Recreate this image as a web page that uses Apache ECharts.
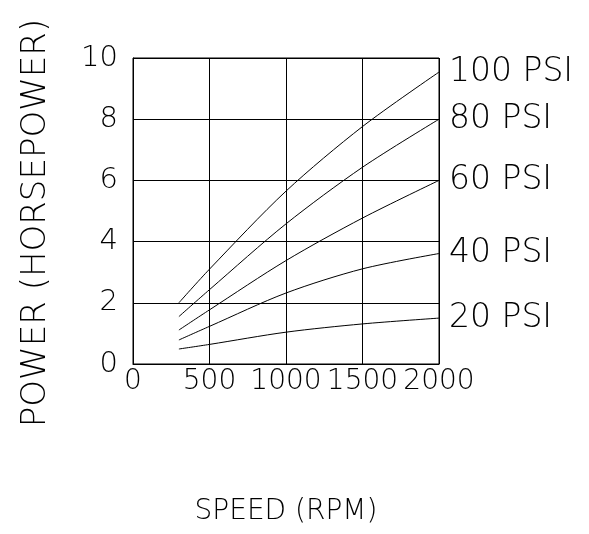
<!DOCTYPE html>
<html>
<head>
<meta charset="utf-8">
<script src="https://cdn.jsdelivr.net/npm/echarts@6/dist/echarts.min.js"></script>
<style>
  html, body { margin: 0; padding: 0; background: #fff; }
  #chart { width: 589px; height: 534px; }
</style>
</head>
<body>
<div id="chart"></div>
<script>
// speed points (rpm)
var speeds = [300, 500, 1000, 1500, 2000];
// horsepower per pressure curve
var psi100 = [2.0, 3.1, 5.65, 7.76, 9.54];
var psi80 = [1.55, 2.43, 4.58, 6.43, 8.0];
var psi60 = [1.11, 1.77, 3.38, 4.77, 6.0];
var psi40 = [0.785, 1.23, 2.32, 3.11, 3.61];
var psi20 = [0.49, 0.64, 1.04, 1.31, 1.5];
var seriesNames = ['100 PSI', '80 PSI', '60 PSI', '40 PSI', '20 PSI'];
var seriesValues = [psi100, psi80, psi60, psi40, psi20];
var xTicks = [0, 500, 1000, 1500, 2000];
var yTicks = [0, 2, 4, 6, 8, 10];

var font = 'DejaVu Sans';

var chart = echarts.init(document.getElementById('chart'));

var series = seriesNames.map(function (name, i) {
  return {
    name: name,
    type: 'line',
    smooth: 0.3,
    showSymbol: false,
    silent: true,
    animation: false,
    lineStyle: { color: '#000', width: 1 },
    data: speeds.map(function (s, j) { return [s, seriesValues[i][j]]; }),
    endLabel: {
      show: true,
      formatter: '{a}',
      distance: 10,
      color: '#000',
      fontFamily: font,
      fontWeight: 200,
      fontSize: 33
    }
  };
});

var option = {
  animation: false,
  grid: {
    left: 133, top: 58, width: 306, height: 306,
    outerBoundsMode: 'none',
    containLabel: false,
    show: true, borderColor: '#000', borderWidth: 1
  },
  xAxis: {
    type: 'value',
    min: xTicks[0], max: xTicks[xTicks.length - 1], interval: xTicks[1] - xTicks[0],
    name: 'SPEED (RPM)',
    nameLocation: 'middle',
    nameGap: 134,
    nameTextStyle: { color: '#000', fontFamily: font, fontWeight: 200, fontSize: 28 },
    axisLine: { show: true, lineStyle: { color: '#000' } },
    axisTick: { show: false },
    axisLabel: {
      color: '#000', fontFamily: font, fontWeight: 200, fontSize: 28, margin: 4,
      showMinLabel: true, showMaxLabel: true, hideOverlap: false,
      formatter: function (v) { return String(v); }
    },
    splitLine: { show: true, lineStyle: { color: '#000', width: 1 } }
  },
  yAxis: {
    type: 'value',
    min: yTicks[0], max: yTicks[yTicks.length - 1], interval: yTicks[1] - yTicks[0],
    name: 'POWER (HORSEPOWER)',
    nameLocation: 'middle',
    nameGap: 80,
    nameRotate: 90,
    nameTextStyle: {
      color: '#000', fontFamily: font, fontWeight: 200, fontSize: 34,
      padding: [0, 24, 0, 0]
    },
    axisLine: { show: true, lineStyle: { color: '#000' } },
    axisTick: { show: false },
    axisLabel: {
      color: '#000', fontFamily: font, fontWeight: 200, fontSize: 29, margin: 15,
      showMinLabel: true, showMaxLabel: true,
      formatter: function (v) { return String(v); }
    },
    splitLine: { show: true, lineStyle: { color: '#000', width: 1 } }
  },
  series: series
};

chart.setOption(option);
</script>
</body>
</html>
